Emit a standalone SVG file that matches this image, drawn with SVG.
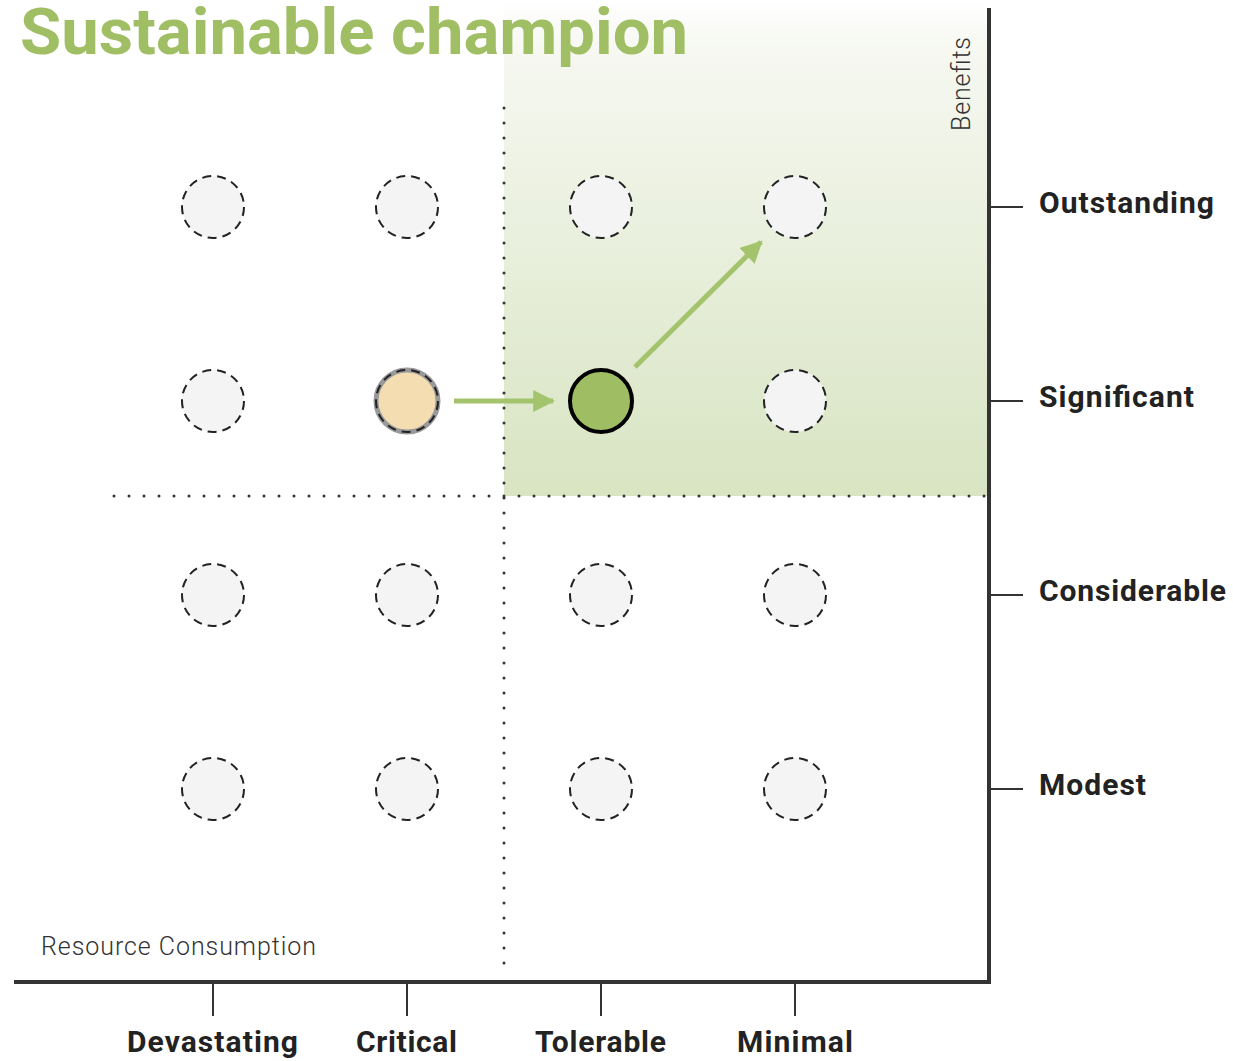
<svg xmlns="http://www.w3.org/2000/svg" width="1233" height="1061" viewBox="0 0 1233 1061">
<defs>
<linearGradient id="zone" x1="0" y1="0" x2="0" y2="1">
<stop offset="0" stop-color="#ffffff"/>
<stop offset="0.1" stop-color="#f6f8f1"/>
<stop offset="1" stop-color="#d8e4c2"/>
</linearGradient>
<marker id="ah" viewBox="0 0 10 10" refX="9" refY="5" markerWidth="4.4" markerHeight="4.4" orient="auto" markerUnits="strokeWidth">
<path d="M0,0 L10,5 L0,10 z" fill="#a3c46c"/>
</marker>
<style>
.slot{fill:#f4f4f4;stroke:#222;stroke-width:2;stroke-dasharray:9 6}
.dots{stroke:#333;stroke-width:3;stroke-linecap:round;stroke-dasharray:0 15;fill:none}
.axis{stroke:#333;stroke-width:4;fill:none}
.tick{stroke:#333;stroke-width:2}
.lab{font-family:Roboto,"Liberation Sans",sans-serif;font-weight:700;font-size:30px;fill:#222}
.ax{font-family:Roboto,"Liberation Sans",sans-serif;font-weight:300;font-size:25px;fill:#333}
.conn{stroke:#a3c46c;stroke-width:5;fill:none;marker-end:url(#ah)}
</style>
</defs>
<rect width="1233" height="1061" fill="#fff"/>
<rect x="504" y="0" width="484" height="496" fill="url(#zone)"/>
<text x="20" y="54" textLength="668" lengthAdjust="spacingAndGlyphs" style="font-family:Roboto,'Liberation Sans',sans-serif;font-weight:700;font-size:64px;fill:#a0be64">Sustainable champion</text>
<g id="grid-lines">
<line class="dots" x1="114" y1="496" x2="985" y2="496"/>
<line class="dots" x1="504" y1="108" x2="504" y2="965"/>
</g>
<g id="axes">
<path class="axis" d="M989,8 V982 H14"/>
<line class="tick" x1="989" y1="207" x2="1023" y2="207"/>
<line class="tick" x1="989" y1="401" x2="1023" y2="401"/>
<line class="tick" x1="989" y1="595" x2="1023" y2="595"/>
<line class="tick" x1="989" y1="789" x2="1023" y2="789"/>
<line class="tick" x1="213" y1="982" x2="213" y2="1016"/>
<line class="tick" x1="407" y1="982" x2="407" y2="1016"/>
<line class="tick" x1="601" y1="982" x2="601" y2="1016"/>
<line class="tick" x1="795" y1="982" x2="795" y2="1016"/>
<text class="lab" x="1039" y="213" textLength="175" lengthAdjust="spacing">Outstanding</text>
<text class="lab" x="1039" y="407" textLength="155" lengthAdjust="spacing">Significant</text>
<text class="lab" x="1039" y="601" textLength="187" lengthAdjust="spacing">Considerable</text>
<text class="lab" x="1039" y="795" textLength="107" lengthAdjust="spacing">Modest</text>
<text class="lab" x="127" y="1052" textLength="171" lengthAdjust="spacing">Devastating</text>
<text class="lab" x="356" y="1052" textLength="101" lengthAdjust="spacing">Critical</text>
<text class="lab" x="535" y="1052" textLength="131" lengthAdjust="spacing">Tolerable</text>
<text class="lab" x="737" y="1052" textLength="116" lengthAdjust="spacing">Minimal</text>
<text class="ax" x="41" y="955" textLength="275" lengthAdjust="spacing">Resource Consumption</text>
<text class="ax" transform="translate(970,131) rotate(-90)" textLength="94" lengthAdjust="spacing">Benefits</text>
</g>
<g id="slots">
<circle class="slot" cx="213" cy="207" r="31"/>
<circle class="slot" cx="407" cy="207" r="31"/>
<circle class="slot" cx="601" cy="207" r="31"/>
<circle class="slot" cx="795" cy="207" r="31"/>
<circle class="slot" cx="213" cy="401" r="31"/>
<circle class="slot" cx="795" cy="401" r="31"/>
<circle class="slot" cx="213" cy="595" r="31"/>
<circle class="slot" cx="407" cy="595" r="31"/>
<circle class="slot" cx="601" cy="595" r="31"/>
<circle class="slot" cx="795" cy="595" r="31"/>
<circle class="slot" cx="213" cy="789" r="31"/>
<circle class="slot" cx="407" cy="789" r="31"/>
<circle class="slot" cx="601" cy="789" r="31"/>
<circle class="slot" cx="795" cy="789" r="31"/>
</g>
<g id="node-current">
<circle cx="407" cy="401" r="31" fill="#f5ddb2" stroke="#999" stroke-width="5"/>
<circle cx="407" cy="401" r="31" fill="none" stroke="#222" stroke-width="2" stroke-dasharray="9 6"/>
</g>
<g id="node-champion">
<circle cx="601" cy="401" r="31" fill="#9fbe63" stroke="#000" stroke-width="4"/>
</g>
<g id="connectors">
<line class="conn" x1="454" y1="401" x2="553" y2="401"/>
<line class="conn" x1="635" y1="367" x2="761" y2="242"/>
</g>
</svg>
